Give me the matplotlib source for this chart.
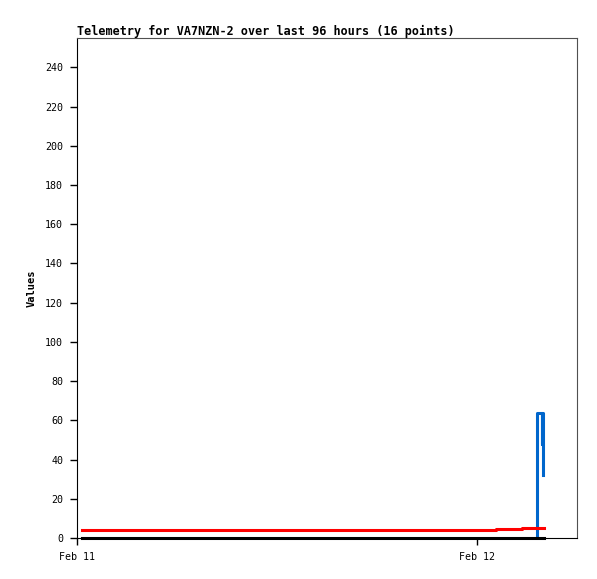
import pandas as pd
import matplotlib
matplotlib.use('Agg')
import matplotlib.pyplot as plt
import matplotlib.dates as mdates

TITLE = "Telemetry for VA7NZN-2 over last 96 hours (16 points)"

# series data
black_times = ['2024-02-11 00:18', '2024-02-12 04:00']
black_vals = [0, 0]

red_times = ['2024-02-11 00:18', '2024-02-12 01:08', '2024-02-12 02:41', '2024-02-12 04:00']
red_vals = [4.1, 4.6, 5.1, 5.1]

blue_times = ['2024-02-12 03:36', '2024-02-12 03:37', '2024-02-12 03:53',
              '2024-02-12 03:54', '2024-02-12 03:57', '2024-02-12 03:58']
blue_vals = [0, 64, 48, 64, 32, 32]

x_start = '2024-02-11 00:00'
x_end = '2024-02-12 06:00'
y_ticks = list(range(0, 241, 20))

plt.rcParams['font.family'] = ['DejaVu Sans Mono']

fig = plt.figure(figsize=(5.97, 5.79), dpi=100)
ax = fig.add_axes([0.129, 0.0708, 0.8375, 0.8636])

ax.plot(pd.to_datetime(blue_times), blue_vals, drawstyle='steps-post',
        color='#0066cc', linewidth=2.2)
ax.plot(pd.to_datetime(red_times), red_vals, drawstyle='steps-post',
        color='#ff0000', linewidth=2.2)
ax.plot(pd.to_datetime(black_times), black_vals, drawstyle='steps-post',
        color='black', linewidth=2.2, clip_on=False)

ax.set_xlim(pd.to_datetime(x_start), pd.to_datetime(x_end))
ax.set_ylim(0, 255)
ax.set_yticks(y_ticks)
ax.xaxis.set_major_locator(mdates.DayLocator())
ax.xaxis.set_major_formatter(mdates.DateFormatter('%b %d'))

ax.tick_params(direction='out', length=5, width=1, labelsize=7.2, pad=5, colors='black')
for side in ['top', 'right']:
    ax.spines[side].set_color('#505050')
for side in ['left', 'bottom']:
    ax.spines[side].set_color('black')

ax.set_title(TITLE, loc='left', fontsize=8.45, fontweight='bold', pad=1.5)
ax.set_ylabel('Values', fontsize=7.5, fontweight='bold', labelpad=6)

fig.savefig('out.png', dpi=100)
